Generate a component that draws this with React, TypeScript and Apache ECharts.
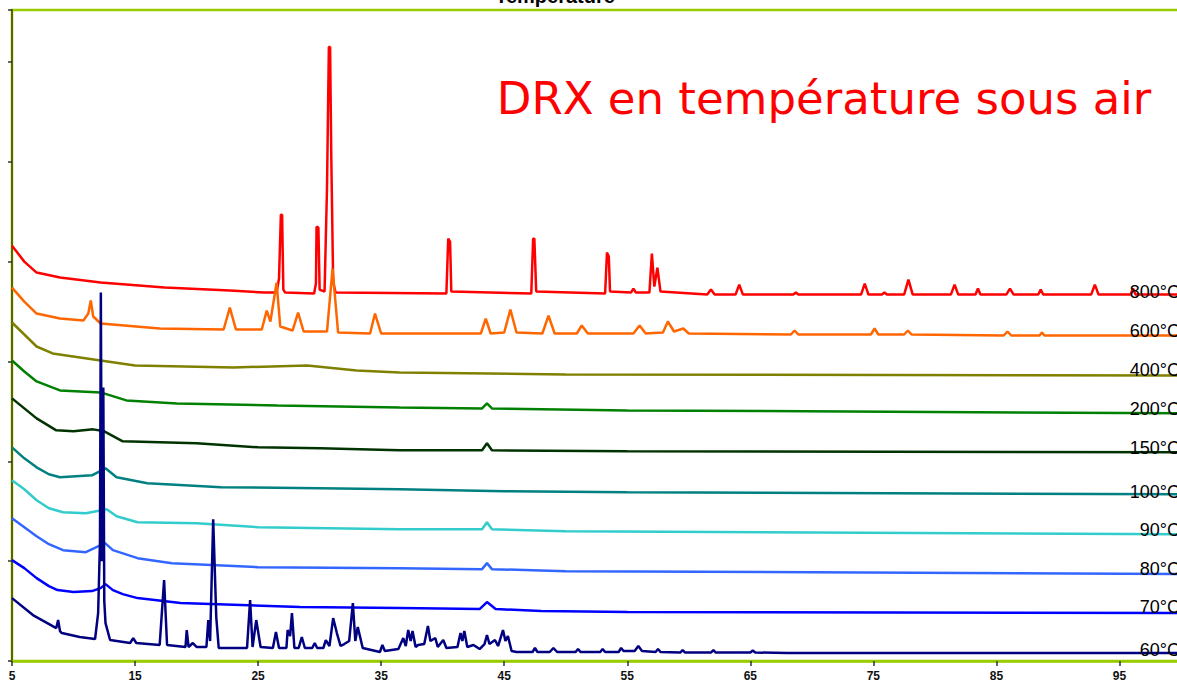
import React, { useEffect, useRef } from "react";
import * as echarts from "echarts";

type Pt = [number, number];

const chartTitle = "Température";
const heading = "DRX en température sous air";

const xTicks = { min: 5, max: 100, interval: 10 };
const yTicks = { min: 0, max: 6520, interval: 1000 };

const s800: Pt[] = [
  [5, 4160], [6, 4000], [7, 3890], [8.9, 3840], [12.2, 3790], [17.4, 3740], [22.7, 3710], [25.5, 3690],
  [26.5, 3690], [26.7, 3830], [26.85, 4470], [26.95, 4470], [27.05, 3720], [27.2, 3690],
  [29.55, 3680], [29.7, 3780], [29.75, 4350], [29.9, 4340], [30.0, 3720], [30.4, 3700],
  [30.6, 4740], [30.75, 6150], [30.85, 6150], [30.95, 5030], [31.1, 3790], [31.3, 3690],
  [40.3, 3680], [40.45, 4230], [40.6, 4200], [40.7, 3700],
  [47.2, 3680], [47.35, 4230], [47.45, 4230], [47.6, 3700],
  [53.2, 3680], [53.35, 4090], [53.5, 4050], [53.6, 3700],
  [55.3, 3690], [55.5, 3730], [55.7, 3690],
  [56.8, 3690], [57.0, 4080], [57.2, 3750], [57.45, 3940], [57.7, 3700],
  [61.5, 3670], [61.8, 3720], [62.1, 3670],
  [63.8, 3670], [64.1, 3770], [64.4, 3670],
  [68.5, 3670], [68.7, 3690], [68.9, 3670],
  [74.0, 3670], [74.3, 3780], [74.6, 3670],
  [75.7, 3670], [75.9, 3690], [76.1, 3670],
  [77.5, 3670], [77.85, 3820], [78.2, 3670],
  [81.3, 3670], [81.6, 3770], [81.9, 3670],
  [83.3, 3670], [83.5, 3730], [83.7, 3670],
  [85.8, 3670], [86.1, 3730], [86.4, 3670],
  [88.4, 3670], [88.6, 3720], [88.8, 3670],
  [92.7, 3670], [93.0, 3770], [93.3, 3670],
  [95.9, 3670], [96.1, 3730], [96.3, 3670], [100, 3670],
];

const s600: Pt[] = [
  [5, 3740], [6, 3600], [7, 3480], [8.9, 3430], [10.8, 3410], [11.2, 3480], [11.4, 3610], [11.6, 3450],
  [12.2, 3380], [17, 3330], [22.2, 3320], [22.7, 3540], [23.2, 3320],
  [25.3, 3320], [25.7, 3510], [26.0, 3400], [26.5, 3790], [26.8, 3350],
  [27.8, 3310], [28.25, 3490], [28.7, 3300],
  [30.6, 3300], [31.05, 3930], [31.5, 3290],
  [34.1, 3280], [34.5, 3480], [35.0, 3280],
  [43.1, 3280], [43.5, 3430], [43.9, 3280],
  [45.0, 3290], [45.5, 3520], [46.0, 3290],
  [48.1, 3280], [48.6, 3460], [49.1, 3280],
  [50.9, 3280], [51.3, 3360], [51.8, 3280],
  [55.5, 3280], [56.0, 3360], [56.5, 3280],
  [57.9, 3290], [58.3, 3400], [58.8, 3300], [59.55, 3330], [60, 3280],
  [68.3, 3270], [68.6, 3310], [68.9, 3270],
  [74.8, 3270], [75.1, 3330], [75.4, 3270],
  [77.5, 3270], [77.8, 3310], [78.1, 3270],
  [85.6, 3260], [85.9, 3300], [86.2, 3260],
  [88.5, 3260], [88.7, 3290], [88.9, 3260], [100, 3260],
];

const s400: Pt[] = [
  [5, 3390], [6, 3270], [7, 3150], [8.3, 3080], [12.2, 3010], [15, 2960], [23, 2940],
  [29, 2960], [33, 2910], [36.5, 2890], [50, 2870], [100, 2860],
];

const s200: Pt[] = [
  [5, 3010], [6, 2900], [7, 2800], [8.9, 2710], [12.2, 2690], [14.3, 2610], [18.4, 2580],
  [26.6, 2560], [36.5, 2540], [43.2, 2530], [43.6, 2580], [44.0, 2530], [55, 2510], [100, 2480],
];

const s150: Pt[] = [
  [5, 2630], [6, 2530], [7, 2430], [8.6, 2310], [10, 2300], [11.6, 2320], [12.5, 2300], [14, 2200],
  [20, 2180], [25, 2140], [30, 2130], [36.5, 2110], [43.2, 2110], [43.6, 2180], [44.0, 2110],
  [55, 2100], [100, 2090],
];

const s100: Pt[] = [
  [5, 2140], [6, 2030], [7, 1940], [8, 1870], [8.9, 1840], [11.5, 1860], [12.6, 1930], [13.5, 1840],
  [16, 1780], [22, 1740], [30, 1730], [36.5, 1720], [45, 1700], [55, 1690], [100, 1670],
];

const s90: Pt[] = [
  [5, 1810], [6, 1720], [7, 1610], [8, 1530], [9.15, 1490], [11, 1480], [12.7, 1520], [13.5, 1450],
  [15.2, 1390], [20, 1380], [25, 1340], [36.5, 1320], [43.2, 1320], [43.6, 1390], [44.0, 1320],
  [50, 1300], [100, 1270],
];

const s80: Pt[] = [
  [5, 1430], [6, 1340], [7, 1250], [8, 1170], [9.15, 1110], [11, 1090], [12.56, 1180], [13.2, 1110],
  [15.2, 1030], [18, 980], [25, 940], [36.5, 930], [43.2, 920], [43.6, 980], [44.0, 920],
  [50, 900], [100, 870],
];

const s70: Pt[] = [
  [5, 1010], [6, 930], [7, 830], [8, 750], [8.7, 710], [10, 690], [11.5, 700], [12.2, 730],
  [12.6, 770], [13.2, 710], [14, 670], [15.2, 630], [18.7, 580], [28.4, 540], [36.5, 530],
  [43.0, 520], [43.6, 590], [44.3, 520], [48, 500], [55, 490], [100, 480],
];

const s60: Pt[] = [
  [5, 630], [6.7, 460], [8.6, 330], [8.75, 410], [8.9, 300], [9.05, 280], [10.5, 240], [11.75, 220],
  [12.0, 480], [12.15, 1200], [12.22, 3690], [12.3, 1000], [12.42, 2740], [12.5, 600], [12.6, 380],
  [12.97, 210], [14.6, 180], [14.85, 230], [15.1, 180],
  [17.0, 160], [17.36, 810], [17.6, 160],
  [19.1, 140], [19.2, 310], [19.35, 140], [19.7, 180], [20.0, 140],
  [20.8, 140], [20.95, 410], [21.1, 200], [21.35, 1420], [21.6, 440], [21.8, 130],
  [24.1, 130], [24.35, 610], [24.55, 140], [24.85, 410], [25.2, 140],
  [26.2, 130], [26.45, 290], [26.7, 130],
  [27.3, 130], [27.4, 310], [27.6, 250], [27.75, 480], [27.95, 130],
  [28.3, 130], [28.55, 240], [28.8, 130],
  [29.4, 130], [29.6, 180], [29.8, 130],
  [30.3, 130], [30.5, 210], [30.8, 150], [31.1, 430], [31.4, 280], [31.7, 150],
  [32.0, 170], [32.4, 200], [32.7, 580], [32.9, 200], [33.1, 340], [33.5, 130],
  [34.9, 90], [35.1, 160], [35.3, 100],
  [36.4, 120], [36.8, 230], [37.0, 150], [37.2, 310], [37.4, 200], [37.55, 300], [37.8, 140],
  [38.0, 160], [38.5, 170], [38.8, 350], [39.0, 200], [39.4, 230], [39.6, 140],
  [40.05, 210], [40.3, 130],
  [41.2, 140], [41.45, 280], [41.6, 200], [41.76, 300], [42.0, 140],
  [42.5, 160], [43.0, 120], [43.4, 170], [43.6, 260], [43.8, 170], [44.25, 210], [44.5, 150],
  [44.9, 310], [45.1, 200], [45.3, 250], [45.6, 100],
  [46, 90], [47.3, 90], [47.5, 130], [47.7, 90], [48.7, 90], [49, 130], [49.3, 90],
  [50.8, 90], [51.0, 120], [51.2, 90], [52.8, 90], [53.0, 120], [53.2, 90],
  [54.3, 90], [54.5, 130], [54.7, 100], [55.6, 100], [55.9, 150], [56.2, 100],
  [57.3, 90], [57.5, 120], [57.7, 90], [59.3, 85], [59.5, 110], [59.7, 85],
  [61.8, 85], [62.0, 110], [62.2, 85], [65.0, 85], [65.2, 105], [65.4, 85],
  [68, 80], [100, 80],
];

const seriesNames = ["800°C", "600°C", "400°C", "200°C", "150°C", "100°C", "90°C", "80°C", "70°C", "60°C"];
const seriesData = [s800, s600, s400, s200, s150, s100, s90, s80, s70, s60];
const seriesColors = ["#ff0000", "#ff6600", "#808000", "#008000", "#003300", "#008080", "#33cccc", "#3366ff", "#0000ff", "#000080"];
const labelY = [292, 331, 370, 409, 448, 492, 530, 569, 607, 650];

export default function App() {
  const ref = useRef<HTMLDivElement>(null);
  useEffect(() => {
    if (!ref.current) return;
    const chart = echarts.init(ref.current, null, { renderer: "svg" });
    const labelGraphics = seriesNames.map((n, i) => ({
      type: "text",
      right: 2,
      y: labelY[i] - 9,
      style: {
        text: n,
        fill: "#000",
        font: "18px 'Liberation Sans', Arial, sans-serif",
        textVerticalAlign: "top",
      },
      z: 100,
    }));
    chart.setOption({
      animation: false,
      backgroundColor: "#ffffff",
      grid: {
        left: 12,
        right: 1,
        top: 10,
        bottom: 29,
        show: true,
        borderColor: "#99cc00",
        borderWidth: 2.5,
        backgroundColor: "transparent",
      },
      xAxis: {
        type: "value",
        min: xTicks.min,
        max: xTicks.max,
        interval: xTicks.interval,
        splitLine: { show: false },
        axisLine: { lineStyle: { color: "#99cc00", width: 2.5 } },
        axisTick: { length: 5, lineStyle: { color: "#333", width: 1.5 } },
        axisLabel: {
          showMaxLabel: false,
          margin: 9,
          color: "#111",
          fontWeight: "bold",
          fontSize: 12,
          fontFamily: "'Liberation Sans', Arial, sans-serif",
        },
      },
      yAxis: {
        type: "value",
        min: yTicks.min,
        max: yTicks.max,
        interval: yTicks.interval,
        splitLine: { show: false },
        axisLine: { show: true, lineStyle: { color: "#5c6600", width: 2 } },
        axisTick: { show: true, length: 4, lineStyle: { color: "#333", width: 1.5 } },
        axisLabel: { show: false },
      },
      series: seriesNames.map((n, i) => ({
        name: n,
        type: "line",
        data: seriesData[i],
        showSymbol: false,
        symbol: "none",
        lineStyle: { color: seriesColors[i], width: 2.5 },
        z: 2 + i,
      })),
      graphic: [
        {
          type: "text",
          x: 555,
          y: -4,
          style: {
            text: chartTitle,
            fill: "#000",
            font: "bold 20px 'Liberation Sans', Arial, sans-serif",
            textAlign: "center",
            textVerticalAlign: "middle",
          },
          z: 100,
        },
        {
          type: "text",
          x: 824,
          y: 98,
          style: {
            text: heading,
            fill: "#ff0000",
            font: "45px 'Comic Sans MS', 'DejaVu Sans', sans-serif",
            textAlign: "center",
            textVerticalAlign: "middle",
          },
          z: 100,
        },
        ...labelGraphics,
      ],
    });
    return () => chart.dispose();
  }, []);
  return (
    <div style={{ position: "fixed", left: 0, top: 0, width: 1177, height: 690, overflow: "hidden", background: "#fff" }}>
      <div ref={ref} style={{ width: 1182, height: 690 }} />
    </div>
  );
}
